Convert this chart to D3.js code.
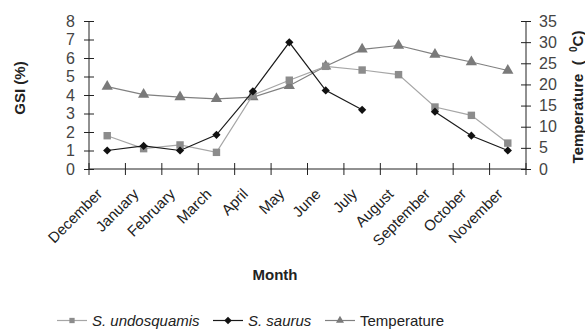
<!DOCTYPE html>
<html>
<head>
<meta charset="utf-8">
<script src="https://cdn.jsdelivr.net/npm/d3@7"></script>
<style>
body { margin: 0; background: #fff; }
text { font-family: "Liberation Sans", Arial, sans-serif; }
</style>
</head>
<body>
<svg id="chart"></svg>
<script>
var w = 585;
var h = 329;
let months = ["December", "January", "February", "March", "April", "May", "June", "July", "August", "September", "October", "November"];
let undosquamis = [1.8, 1.1, 1.3, 0.9, 4.0, 4.8, 5.55, 5.35, 5.1, 3.35, 2.9, 1.4];
let saurus = [1.0, 1.25, 1.0, 1.85, 4.2, 6.85, 4.25, 3.2, null, 3.1, 1.8, 1.0];
let temperature = [19.5, 17.6, 17.0, 16.6, 17.0, 19.7, 24.3, 28.3, 29.2, 27.1, 25.3, 23.3];
let gsiTicks = [0, 1, 2, 3, 4, 5, 6, 7, 8];
let tempTicks = [0, 5, 10, 15, 20, 25, 30, 35];

var svg = d3.select("#chart")
    .attr("width", w)
    .attr("height", h);

// plot box (note: "top" is reserved on window, so prefix)
var pLeft = 89, pRight = 526, pTop = 21, pBottom = 169;

var x = d3.scaleBand()
    .domain(months)
    .range([pLeft, pRight]);
var yL = d3.scaleLinear().domain([0, 8]).range([pBottom, pTop]);
var yR = d3.scaleLinear().domain([0, 35]).range([pBottom, pTop]);

//axes
var gl = svg.append("g").attr("transform", `translate(${pLeft},0)`)
    .call(d3.axisLeft(yL).tickValues(gsiTicks).tickSize(10).tickPadding(4));
gl.selectAll(".tick line").attr("x2", -5).attr("x1", 5);
var gr = svg.append("g").attr("transform", `translate(${pRight},0)`)
    .call(d3.axisRight(yR).tickValues(tempTicks).tickSize(10).tickPadding(3));
gr.selectAll(".tick line").attr("x1", -5).attr("x2", 5);
[gl, gr].forEach(g => {
    g.select(".domain").attr("stroke", "#222").attr("d", `M0,${pTop}V${pBottom}`);
    g.selectAll(".tick line").attr("stroke", "#222");
    g.selectAll("text").attr("font-size", 16).attr("fill", "#444")
        .style("font-family", "Liberation Sans, Arial, sans-serif");
});

//x axis: tick marks at band edges
var gx = svg.append("g");
gx.append("line").attr("x1", pLeft).attr("x2", pRight).attr("y1", pBottom).attr("y2", pBottom).attr("stroke", "#222");
gx.selectAll(".xt")
    .data(months.concat(["end"]))
    .enter()
    .append("line")
    .attr("x1", (d, i) => pLeft + i * x.bandwidth())
    .attr("x2", (d, i) => pLeft + i * x.bandwidth())
    .attr("y1", pBottom - 6)
    .attr("y2", pBottom + 6)
    .attr("stroke", "#222");
gx.selectAll(".xl")
    .data(months)
    .enter()
    .append("text")
    .attr("transform", d => `translate(${x(d) + x.bandwidth() / 2 - 4},${pBottom + 26}) rotate(-45)`)
    .attr("text-anchor", "end")
    .attr("font-size", 15)
    .attr("fill", "#222")
    .text(d => d);

//lines
function drawSeries(vals, scale, lineColor, marker, markerColor, size, rot) {
    var pts = vals.map((v, i) => ({ v: v, i: i }));
    var line = d3.line()
        .defined(d => d.v != null)
        .x(d => x(months[d.i]) + x.bandwidth() / 2)
        .y(d => scale(d.v));
    svg.append("path")
        .datum(pts)
        .attr("d", line)
        .attr("fill", "none")
        .attr("stroke", lineColor)
        .attr("stroke-width", 1.2);
    svg.selectAll(null)
        .data(pts.filter(d => d.v != null))
        .enter()
        .append("path")
        .attr("d", d3.symbol().type(marker).size(size))
        .attr("transform", d => `translate(${x(months[d.i]) + x.bandwidth() / 2},${scale(d.v)}) rotate(${rot})`)
        .attr("fill", markerColor);
}
drawSeries(temperature, yR, "#808080", d3.symbolTriangle, "#7a7a7a", 55, 0);
drawSeries(undosquamis, yL, "#a6a6a6", d3.symbolSquare, "#8c8c8c", 55, 0);
drawSeries(saurus, yL, "#1a1a1a", d3.symbolSquare, "#111", 34, 45);

//axis titles
svg.append("text")
    .attr("transform", `translate(25,88) rotate(-90)`)
    .attr("text-anchor", "middle")
    .attr("font-size", 15)
    .attr("font-weight", "bold")
    .attr("fill", "#222")
    .text("GSI (%)");
var tt = svg.append("text")
    .attr("transform", `translate(583,97) rotate(-90)`)
    .attr("text-anchor", "middle")
    .attr("font-size", 15)
    .attr("font-weight", "bold")
    .attr("fill", "#222")
    .attr("xml:space", "preserve");
tt.append("tspan").text("Temperature  (  ");
tt.append("tspan").attr("font-size", 10).attr("dy", -6).text("0");
tt.append("tspan").attr("dy", 6).text("C)");

svg.append("text")
    .attr("x", 275)
    .attr("y", 280)
    .attr("text-anchor", "middle")
    .attr("font-size", 15)
    .attr("font-weight", "bold")
    .attr("fill", "#222")
    .text("Month");

//legend
let legendItems = [
    { name: "S. undosquamis", italic: true, lx: 57, marker: d3.symbolSquare, rot: 0, lc: "#a6a6a6", mc: "#8c8c8c" },
    { name: "S. saurus", italic: true, lx: 213, marker: d3.symbolSquare, rot: 45, lc: "#1a1a1a", mc: "#111" },
    { name: "Temperature", italic: false, lx: 325, marker: d3.symbolTriangle, rot: 0, lc: "#808080", mc: "#7a7a7a" }
];
var lg = svg.append("g");
legendItems.forEach(it => {
    lg.append("line").attr("x1", it.lx).attr("x2", it.lx + 30).attr("y1", 320.5).attr("y2", 320.5)
        .attr("stroke", it.lc).attr("stroke-width", 1.2);
    lg.append("path").attr("d", d3.symbol().type(it.marker).size(28))
        .attr("transform", `translate(${it.lx + 15},320.5) rotate(${it.rot})`).attr("fill", it.mc);
    lg.append("text").attr("x", it.lx + 35).attr("y", 326)
        .attr("font-size", 15)
        .attr("font-style", it.italic ? "italic" : "normal")
        .attr("fill", "#222")
        .text(it.name);
});
</script>
</body>
</html>
